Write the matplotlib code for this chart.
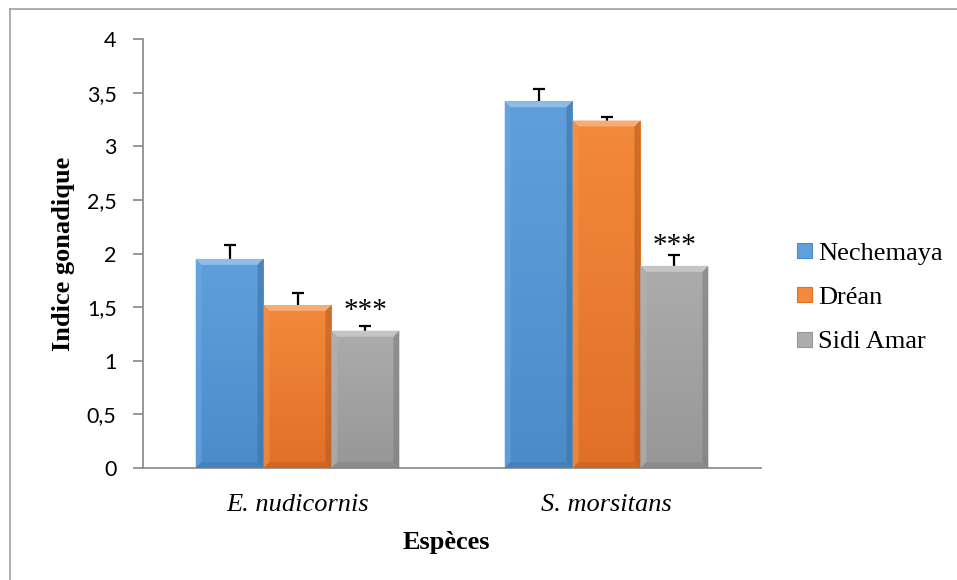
import numpy as np
import matplotlib
matplotlib.use('Agg')
import matplotlib.pyplot as plt
from matplotlib.patches import Polygon, Patch
from matplotlib.lines import Line2D
from matplotlib.colors import to_rgb, LinearSegmentedColormap

# --- données ---
especes = ['E. nudicornis', 'S. morsitans']
sites = ['Nechemaya', 'Dréan', 'Sidi Amar']
moyennes = {
    'Nechemaya': [1.95, 3.42],
    'Dréan': [1.52, 3.24],
    'Sidi Amar': [1.28, 1.885],
}
erreurs = {
    'Nechemaya': [0.13, 0.11],
    'Dréan': [0.11, 0.03],
    'Sidi Amar': [0.04, 0.10],
}
signif = ['***', '***']  # Sidi Amar

couleurs = {
    'Nechemaya': ('#5fa0dc', '#4a8bca'),
    'Dréan': ('#f3893b', '#e07027'),
    'Sidi Amar': ('#acacac', '#979797'),
}
serif = 'Liberation Serif'

W, H = 957, 580
fig = plt.figure(figsize=(W / 100, H / 100), dpi=100)
ax = fig.add_axes([143 / W, 1 - 468 / H, 618 / W, 429 / H])

x = np.arange(len(especes))
larg = 0.22
ax.set_xlim(-0.5, 1.5)
ax.set_ylim(0, 4)


def melange(c, f, cible):
    c = np.array(to_rgb(c))
    return tuple(c + (np.array(cible) - c) * f)


bbox = ax.get_window_extent()
px_x = bbox.width / 2.0
px_y = bbox.height / 4.0
bx = 6 / px_x
by = 6 / px_y

for i, s in enumerate(sites):
    haut, bas = couleurs[s]
    pos = x + (i - 1) * larg
    barres = ax.bar(pos, moyennes[s], larg, color=haut, edgecolor='none', zorder=2)
    _, caps, _ = ax.errorbar(pos, moyennes[s], yerr=[np.zeros(len(x)), erreurs[s]], fmt='none',
                             ecolor='black', elinewidth=1.6, capsize=4.5, capthick=1.6, zorder=1)
    caps[0].set_visible(False)  # pas de barre inférieure
    # dégradé + biseau
    grad = np.linspace(0, 1, 100).reshape(-1, 1)
    cmap = LinearSegmentedColormap.from_list('g', [bas, haut])
    for p in barres:
        x0, y0 = p.get_x(), p.get_y()
        x1, y1 = x0 + p.get_width(), y0 + p.get_height()
        im = ax.imshow(grad, cmap=cmap, extent=[x0, x1, y0, y1], origin='lower',
                       aspect='auto', zorder=2)
        im.set_clip_path(p)
        clair = melange(haut, 0.3, (1, 1, 1))
        mi_clair = melange(haut, 0.08, (1, 1, 1))
        sombre = melange(bas, 0.18, (0, 0, 0))
        ax.add_patch(Polygon([(x0, y1), (x1, y1), (x1 - bx, y1 - by), (x0 + bx, y1 - by)],
                             closed=True, color=clair, lw=0, zorder=3))
        ax.add_patch(Polygon([(x0, y0), (x0, y1), (x0 + bx, y1 - by), (x0 + bx, y0 + by)],
                             closed=True, color=mi_clair, lw=0, zorder=3, alpha=0.6))
        ax.add_patch(Polygon([(x1, y0), (x1, y1), (x1 - bx, y1 - by), (x1 - bx, y0 + by)],
                             closed=True, color=sombre, lw=0, zorder=3, alpha=0.6))
        ax.add_patch(Polygon([(x0, y0), (x1, y0), (x1 - bx, y0 + by), (x0 + bx, y0 + by)],
                             closed=True, color=sombre, lw=0, zorder=3, alpha=0.4))
    if s == 'Sidi Amar':
        for j in range(len(x)):
            ax.annotate(signif[j], (pos[j], moyennes[s][j]),
                        xytext=(0, 9), textcoords='offset points', ha='center', va='baseline',
                        fontsize=21, family=serif, zorder=5)

ax.set_xlim(-0.5, 1.5)
ax.set_ylim(0, 4)

# axes
for sp in ['top', 'right']:
    ax.spines[sp].set_visible(False)
ax.spines['left'].set_color('#868686')
ax.spines['bottom'].set_color('#868686')
ax.spines['left'].set_linewidth(1.2)
ax.spines['bottom'].set_linewidth(1.2)

ticks = np.arange(0, 4.01, 0.5)
ax.set_yticks(ticks)
ax.set_yticklabels([f'{v:g}'.replace('.', ',') for v in ticks], fontsize=15.5, family='Lato')
ax.tick_params(axis='y', length=7, width=1.2, color='#868686', pad=12)
ax.set_xticks(x)
ax.set_xticklabels(especes, fontsize=19, family=serif, style='italic')
ax.tick_params(axis='x', length=0, pad=19)

ax.set_ylabel('Indice gonadique', fontsize=19, family=serif, fontweight='bold')
ax.yaxis.set_label_coords(-0.11, 0.5)
ax.set_xlabel('Espèces', fontsize=19, family=serif, fontweight='bold')
ax.xaxis.set_label_coords(0.49, -0.146)

# légende
poignees = [Patch(facecolor=couleurs[s][0], edgecolor=couleurs[s][1], lw=0.8) for s in sites]
fig.legend(poignees, sites, loc='center left', bbox_to_anchor=(797 / W, 1 - 298 / H),
           frameon=False, prop={'family': serif, 'size': 19},
           handlelength=0.57, handleheight=0.5, handletextpad=0.23, labelspacing=0.85,
           borderpad=0, borderaxespad=0)

# cadre du graphique
fig.add_artist(Line2D([10 / W, 10 / W], [0, 1 - 9 / H], color='#a0a0a0', lw=1.2))
fig.add_artist(Line2D([10 / W, 1], [1 - 9 / H, 1 - 9 / H], color='#a0a0a0', lw=1.2))

fig.savefig('out.png', dpi=100)
